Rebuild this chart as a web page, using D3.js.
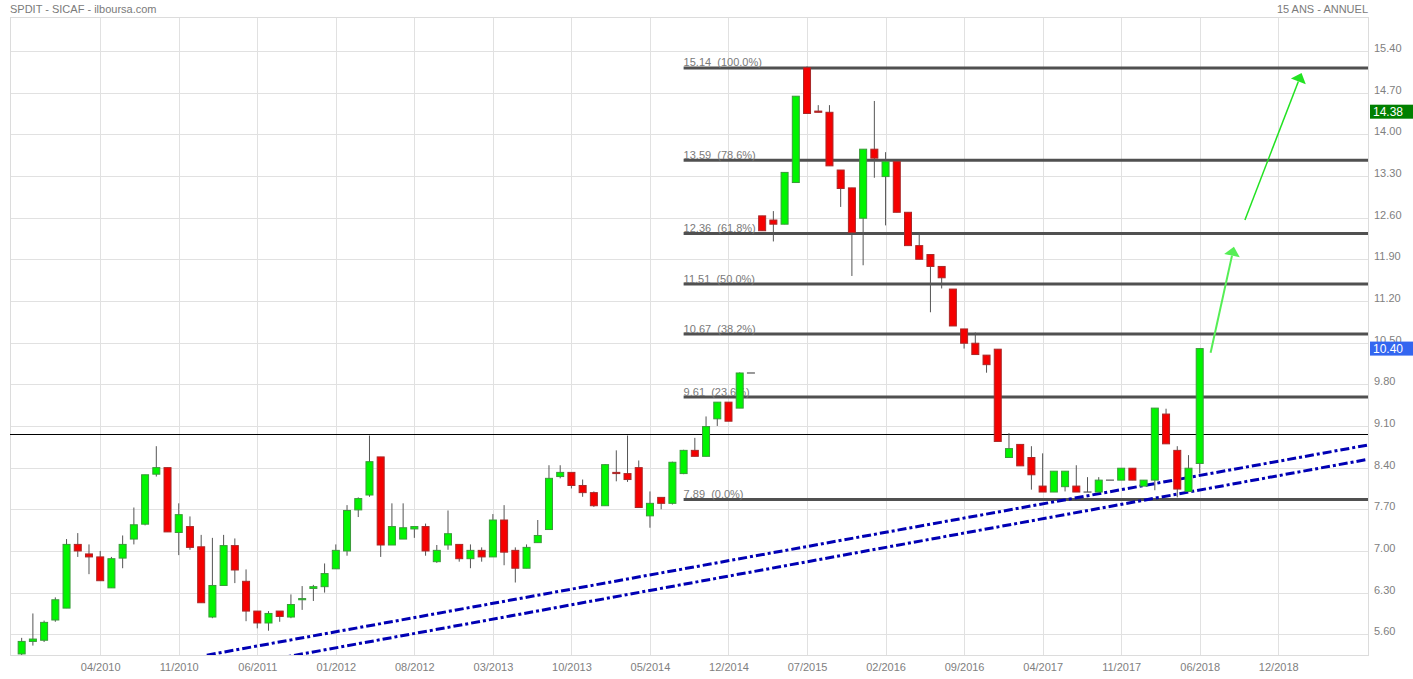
<!DOCTYPE html>
<html><head><meta charset="utf-8">
<script src="https://cdn.jsdelivr.net/npm/d3@7"></script>
<style>
body{margin:0;background:#fff;}
svg{display:block;font-family:"Liberation Sans",Arial,sans-serif;}
</style>
</head><body>
<svg id="c" width="1413" height="679"></svg>
<script>
// ---- data (monthly candles, first = 09/2009) ----
const opens  = [5.27,5.48,5.50,5.84,6.04,7.11,6.95,6.90,6.38,6.88,7.20,7.45,8.29,8.40,7.31,7.41,7.07,5.89,6.42,7.09,
                6.49,5.99,5.79,5.99,5.89,6.18,6.37,6.40,6.70,7.00,7.69,7.94,8.58,7.10,7.20,7.37,7.41,6.82,7.10,7.11,
                6.87,7.01,6.90,7.52,7.01,6.71,7.14,7.36,8.25,8.32,8.10,7.98,7.76,8.32,8.30,8.40,7.59,7.90,7.80,8.30,
                8.69,8.59,9.22,9.50,9.40,9.99,12.63,12.56,12.49,13.19,15.12,14.39,14.37,13.40,13.10,12.59,13.75,13.29,13.54,12.69,
                12.13,11.98,11.78,11.40,10.73,10.49,10.29,10.39,8.57,8.79,8.57,8.09,7.99,8.08,8.09,7.99,7.99,8.19,8.19,8.39,
                8.09,8.19,9.30,8.69,8.00,8.47];
const highs  = [5.54,5.95,5.83,6.22,7.20,7.30,7.11,7.00,6.90,7.26,7.73,8.28,8.76,8.40,7.80,7.58,7.27,7.22,7.27,7.21,
                6.69,5.99,5.99,5.99,6.27,6.41,6.43,6.79,7.11,7.77,7.90,8.94,8.58,7.80,7.80,7.41,7.46,7.10,7.68,7.11,
                7.11,7.06,7.62,7.77,7.06,7.11,7.52,8.44,8.44,8.32,8.20,8.00,8.46,8.69,8.94,8.52,8.00,7.90,8.50,8.70,
                8.90,9.26,9.50,9.50,10.00,9.99,12.63,12.71,13.36,14.64,15.14,14.49,14.49,13.40,13.10,13.75,14.56,13.70,13.54,12.69,
                12.34,11.98,11.78,11.40,10.73,10.67,10.29,10.39,8.98,8.79,8.76,8.64,8.34,8.34,8.44,8.24,8.24,8.19,8.39,8.39,
                8.19,9.40,9.39,8.76,8.61,10.40];
const lows   = [5.25,5.41,5.47,5.81,6.04,6.90,6.61,6.50,6.38,6.71,7.11,7.43,8.25,7.32,6.93,7.02,6.13,5.87,6.42,6.46,
                5.82,5.70,5.66,5.81,5.87,6.01,6.16,6.30,6.70,6.92,7.57,7.91,6.90,7.10,7.20,7.22,6.92,6.80,7.02,6.82,
                6.71,6.82,6.90,6.76,6.47,6.71,7.14,7.36,8.22,8.05,7.91,7.74,7.76,8.17,8.16,7.73,7.39,7.70,7.78,8.29,
                8.59,8.59,9.10,9.18,9.40,9.99,12.38,12.20,12.49,13.19,14.35,14.37,13.47,12.78,11.62,11.80,13.27,12.47,12.69,12.13,
                11.90,11.01,11.41,10.78,10.40,10.30,9.995,8.84,8.57,8.43,8.03,7.99,7.99,8.00,7.99,7.99,7.99,8.19,8.19,8.19,
                8.09,8.02,8.80,7.90,8.00,8.30];
const closes = [5.48,5.52,5.80,6.18,7.11,7.00,6.90,6.50,6.87,7.11,7.44,8.28,8.40,7.32,7.61,7.06,6.13,6.42,7.09,6.68,
                5.99,5.79,5.95,5.90,6.10,6.20,6.40,6.62,7.01,7.68,7.88,8.50,7.10,7.41,7.39,7.41,7.00,7.01,7.29,6.87,
                7.01,6.90,7.52,6.98,6.71,7.06,7.26,8.22,8.32,8.10,7.98,7.76,8.45,8.30,8.20,7.73,7.80,7.80,8.49,8.69,
                8.59,9.09,9.50,9.18,9.99,9.99,12.38,12.49,13.36,14.64,14.35,14.37,13.47,13.09,12.35,13.75,13.60,13.54,12.69,12.13,
                11.90,11.78,11.59,10.78,10.49,10.30,10.13,8.84,8.72,8.43,8.28,7.99,8.34,8.34,7.99,7.99,8.19,8.19,8.39,8.19,
                8.19,9.40,8.80,8.04,8.39,10.40];

const xTickIndex  = [7,14,21,28,35,42,49,56,63,70,77,84,91,98,105,112];
const xTickLabels = ["04/2010","11/2010","06/2011","01/2012","08/2012","03/2013","10/2013","05/2014",
                     "12/2014","07/2015","02/2016","09/2016","04/2017","11/2017","06/2018","12/2018"];
const yTickValues = [5.60,6.30,7.00,7.70,8.40,9.10,9.80,10.50,11.20,11.90,12.60,13.30,14.00,14.70,15.40];

const fibValues = [15.14,13.59,12.36,11.51,10.67,9.61,7.89];
const fibPct    = ["100.0%","78.6%","61.8%","50.0%","38.2%","23.6%","0.0%"];
const fibStartIndex = 59;

const resistanceValue = 8.96;
const trendUpper = [[16.5,5.25],[120,8.78]];
const trendLower = [[22.7,5.19],[120,8.54]];
const arrowsData = [
  {from:[105.97,10.33], to:[108.05,12.11]},
  {from:[109.03,12.56], to:[114.08,15.03]}
];
const lastPrice = 10.40;
const markPrice = 14.38;

// ---- layout ----
const svg = d3.select("#c");
const P = {left:10, right:1368, top:17, bottom:655};
const x = d3.scaleLinear().domain([-1.04,120]).range([P.left,P.right]);
const y = d3.scaleLinear().domain([5.252,15.971]).range([P.bottom,P.top]);
const gridColor = "#e1e1e1", textColor = "#808080";

svg.append("defs").append("clipPath").attr("id","clip")
  .append("rect").attr("x",P.left).attr("y",P.top).attr("width",P.right-P.left).attr("height",P.bottom-P.top);

// grid
const gy = svg.append("g").attr("transform",`translate(${P.left},0)`)
  .call(d3.axisLeft(y).tickValues(yTickValues).tickSize(-(P.right-P.left)).tickFormat(""));
gy.selectAll("line").attr("stroke",gridColor).attr("shape-rendering","crispEdges");
gy.select(".domain").remove();
const gx = svg.append("g").attr("transform",`translate(0,${P.bottom})`)
  .call(d3.axisBottom(x).tickValues(xTickIndex).tickSize(-(P.bottom-P.top)).tickFormat(""));
gx.selectAll("line").attr("stroke",gridColor).attr("shape-rendering","crispEdges");
gx.select(".domain").remove();

// frame
svg.append("rect").attr("x",P.left+0.5).attr("y",P.top+0.5)
  .attr("width",P.right-P.left).attr("height",P.bottom-P.top)
  .attr("fill","none").attr("stroke","#dcdcdc");

// axes labels
const ay = svg.append("g").attr("transform",`translate(${P.right},0)`)
  .call(d3.axisRight(y).tickValues(yTickValues).tickSize(0).tickPadding(6).tickFormat(d3.format(".2f")));
ay.select(".domain").remove();
ay.selectAll("text").attr("fill",textColor).attr("font-size","11px").attr("y",-3)
  .attr("font-family","'Liberation Sans',Arial,sans-serif");

const ax = svg.append("g").attr("transform",`translate(0,${P.bottom})`)
  .call(d3.axisBottom(x).tickValues(xTickIndex).tickSize(0).tickPadding(8).tickFormat((d,i)=>xTickLabels[i]));
ax.select(".domain").remove();
ax.selectAll("text").attr("fill",textColor).attr("font-size","11px")
  .attr("font-family","'Liberation Sans',Arial,sans-serif");

// titles
svg.append("text").attr("x",10).attr("y",13).attr("font-size","11px").attr("fill","#7a7a7a")
  .text("SPDIT - SICAF - ilboursa.com");
svg.append("text").attr("x",1368).attr("y",13).attr("font-size","11px").attr("fill","#7a7a7a")
  .attr("text-anchor","end").text("15 ANS - ANNUEL");

const plot = svg.append("g").attr("clip-path","url(#clip)");

// resistance line
plot.append("line").attr("x1",P.left).attr("x2",P.right)
  .attr("y1",Math.round(y(resistanceValue))+0.5).attr("y2",Math.round(y(resistanceValue))+0.5)
  .attr("stroke","#000").attr("stroke-width",1);

// fib lines
const fibG = plot.append("g").attr("transform","translate(0,1.5)");
fibValues.forEach((v,i)=>{
  fibG.append("line").attr("x1",x(fibStartIndex)).attr("x2",P.right)
    .attr("y1",y(v)).attr("y2",y(v)).attr("stroke","#505050").attr("stroke-width",3);
  fibG.append("text").attr("x",x(fibStartIndex)).attr("y",y(v)-1.5)
    .attr("font-size","11px").attr("fill","#7a7a7a").style("white-space","pre")
    .text(v.toFixed(2)+"  ("+fibPct[i]+")");
});

// trend lines
const line = d3.line().x(d=>x(d[0])).y(d=>y(d[1]));
[trendUpper,trendLower].forEach(t=>{
  plot.append("path").attr("d",line(t)).attr("fill","none")
    .attr("stroke","#0000b4").attr("stroke-width",3).attr("stroke-dasharray","9,3,3,3");
});

// candles
const candles = opens.map((o,i)=>({i,o,h:highs[i],l:lows[i],c:closes[i]}));
const cg = plot.append("g");
candles.forEach(d=>{
  const cx = x(d.i);
  cg.append("line").attr("x1",cx).attr("x2",cx).attr("y1",y(d.h)).attr("y2",y(d.l))
    .attr("stroke","#555").attr("stroke-width",1);
  if (d.o === d.c) {
    cg.append("line").attr("x1",cx-4).attr("x2",cx+4).attr("y1",y(d.o)).attr("y2",y(d.o))
      .attr("stroke","#555").attr("stroke-width",1.2);
  } else {
    const up = d.c > d.o;
    const top = y(Math.max(d.o,d.c)), bot = y(Math.min(d.o,d.c));
    cg.append("rect").attr("x",cx-3.5).attr("width",7)
      .attr("y",top).attr("height",Math.max(1,bot-top))
      .attr("fill",up?"#00f500":"#f50000")
      .attr("stroke",up?"#3a9a3a":"#a82828").attr("stroke-width",1);
  }
});

// arrows
const arrowColors = ["#55ee55","#22e222"];
const arrowWidths = [2,1.5];
arrowsData.forEach((a,k)=>{
  const x1=x(a.from[0]), y1=y(a.from[1]), x2=x(a.to[0]), y2=y(a.to[1]);
  const ang = Math.atan2(y2-y1,x2-x1);
  const L=9, Wd=8;
  const bx = x2-L*Math.cos(ang), by = y2-L*Math.sin(ang);
  svg.append("line").attr("x1",x1).attr("y1",y1).attr("x2",bx).attr("y2",by)
    .attr("stroke",arrowColors[k]).attr("stroke-width",arrowWidths[k]);
  const px = -Math.sin(ang), py = Math.cos(ang);
  svg.append("path").attr("d",`M${x2},${y2}L${bx+px*Wd},${by+py*Wd}L${bx-px*Wd},${by-py*Wd}Z`)
    .attr("fill",arrowColors[k]);
});

// price tags
function tag(v,color){
  const yy = y(v);
  svg.append("rect").attr("x",P.right+2).attr("y",yy-7).attr("width",1413-P.right-2).attr("height",14).attr("fill",color);
  svg.append("text").attr("x",P.right+5).attr("y",yy+4.5).attr("font-size","12px").attr("fill","#fff")
    .text(v.toFixed(2));
}
tag(markPrice,"#008000");
tag(lastPrice,"#3366f0");
</script>
</body></html>
